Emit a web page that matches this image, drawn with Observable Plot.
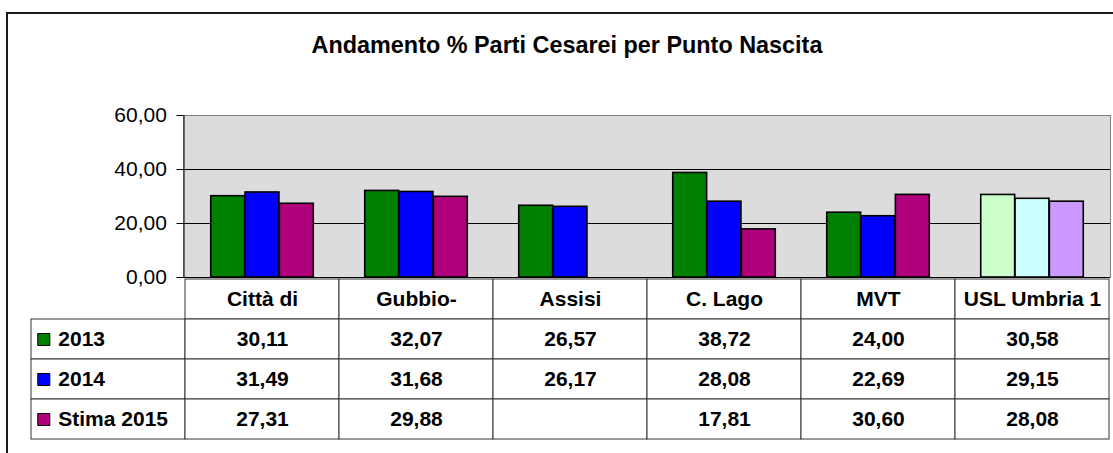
<!DOCTYPE html>
<html>
<head>
<meta charset="utf-8">
<script src="https://cdn.jsdelivr.net/npm/d3@7"></script>
<script src="https://cdn.jsdelivr.net/npm/@observablehq/plot@0.6"></script>
<style>
  html, body { margin: 0; padding: 0; background: #fff; overflow: hidden; }
  #chart { position: relative; width: 1113px; height: 453px; overflow: hidden; font-family: "Liberation Sans", Arial, sans-serif; }
  #border { position: absolute; left: 6px; top: 12px; width: 1300px; height: 700px; border: 2px solid #1a1a1a; box-sizing: border-box; }
  #title { position: absolute; left: 7px; top: 34px; width: 1120px; text-align: center; font-size: 23.4px; line-height: 23px; font-weight: bold; color: #000; }
  #bars, #table { position: absolute; left: 0; }
  #bars { top: 0; }
  #table { top: 276px; }
</style>
</head>
<body>
<div id="chart">
  <div id="border"></div>
  <div id="title">Andamento % Parti Cesarei per Punto Nascita</div>
  <div id="bars"></div>
  <div id="table"></div>
</div>
<script>
// ---- data ----
const categories = ["Città di", "Gubbio-", "Assisi", "C. Lago", "MVT", "USL Umbria 1"];
const seriesNames = ["2013", "2014", "Stima 2015"];
const values2013 = [30.11, 32.07, 26.57, 38.72, 24.00, 30.58];
const values2014 = [31.49, 31.68, 26.17, 28.08, 22.69, 29.15];
const valuesStima2015 = [27.31, 29.88, null, 17.81, 30.60, 28.08];
const yTicks = [0, 20, 40, 60];
const seriesColors = ["#008000", "#0000ff", "#b0007c"];
const totalColors = ["#ccffcc", "#ccffff", "#cc99ff"];
const totalCategory = "USL Umbria 1";

const seriesValues = [values2013, values2014, valuesStima2015];
const rows = [];
seriesNames.forEach((s, i) => categories.forEach((c, j) => {
  rows.push({series: s, si: i, cat: c, value: seriesValues[i][j]});
}));
const fmt = v => d3.format(".2f")(v).replace(".", ",");
const colorOf = d => (d.cat === totalCategory ? totalColors : seriesColors)[d.si];

// ---- layout ----
const W = 1113;
const tableLeft = 29, rightM = 3;
const colW = (W - tableLeft - rightM) / 7;
const plotLeft = tableLeft + colW;
const groupBand = colW / 4.5; // gap width 150%
const font = "'Liberation Sans', Arial, sans-serif";

// ---- bar chart ----
const barMarks = seriesNames.map((s, i) =>
  Plot.barY(rows.filter(d => d.si === i && d.value != null), {
    x: "cat", y: "value", fill: colorOf,
    stroke: "#000", strokeWidth: 1.6,
    insetLeft: (0.75 + i) * groupBand,
    insetRight: (2.75 - i) * groupBand
  })
);

const bars = Plot.plot({
  width: W, height: 278,
  marginTop: 115, marginBottom: 1, marginLeft: plotLeft, marginRight: rightM,
  style: {fontFamily: font, fontSize: "21px", background: "transparent", overflow: "visible", color: "#000"},
  x: {type: "band", domain: categories, padding: 0, axis: null},
  y: {domain: [0, 60], axis: null, label: null},
  color: {type: "identity"},
  marks: [
    Plot.frame({fill: "#dcdcdc", stroke: "#808080"}),
    Plot.ruleY([20, 40], {stroke: "#000", strokeWidth: 1}),
    ...barMarks,
    Plot.ruleY([0], {stroke: "#000", strokeWidth: 1}),
    Plot.frame({anchor: "left", stroke: "#000"}),
    Plot.axisY({ticks: yTicks, tickFormat: fmt, tickSize: 7, tickPadding: 10, fontSize: 21, stroke: "#000", label: null})
  ]
});
document.getElementById("bars").appendChild(bars);

// ---- data table ----
const rowKey = " ";
const headerKey = "hdr";
const tableCells = [
  ...categories.map(c => ({x: c, y: headerKey})),
  ...seriesNames.flatMap(s => [rowKey, ...categories].map(c => ({x: c, y: s})))
];
const legendRows = seriesNames.map((s, i) => ({series: s, si: i, cat: ""}));

const table = Plot.plot({
  width: W, height: 165,
  marginTop: 1, marginBottom: 1, marginLeft: tableLeft, marginRight: rightM,
  style: {fontFamily: font, fontSize: "21px", background: "transparent", overflow: "visible", color: "#000"},
  x: {type: "band", domain: [rowKey, ...categories], padding: 0, axis: null},
  y: {type: "band", domain: [headerKey, ...seriesNames], padding: 0, axis: null},
  color: {type: "identity"},
  marks: [
    Plot.cell(tableCells, {x: "x", y: "y", fill: "#fff", stroke: "#333", strokeWidth: 1, inset: 0}),
    Plot.text(categories, {x: d => d, y: () => headerKey, text: d => d, fontWeight: "bold", fontSize: 21, fill: "#000"}),
    Plot.text(rows.filter(d => d.value != null), {x: "cat", y: "series", text: d => fmt(d.value), fontWeight: "bold", fontSize: 21, fill: "#000"}),
    Plot.dot(legendRows, {x: () => rowKey, y: "series", symbol: "square", r: 6.8, fill: d => seriesColors[d.si], stroke: "#000", strokeWidth: 1, dx: 41.5 - (tableLeft + colW / 2)}),
    Plot.text(legendRows, {x: () => rowKey, y: "series", text: "series", textAnchor: "start", dx: 56 - (tableLeft + colW / 2), fontWeight: "bold", fontSize: 21, fill: "#000"})
  ]
});
document.getElementById("table").appendChild(table);
</script>
</body>
</html>
